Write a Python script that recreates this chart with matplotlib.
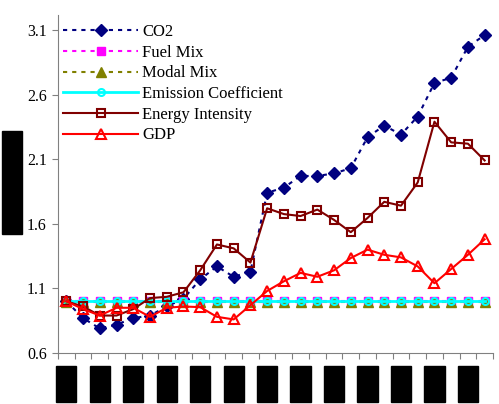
import numpy as np
import matplotlib.pyplot as plt
from matplotlib.transforms import blended_transform_factory

plt.rcParams['font.family'] = ['Liberation Serif', 'DejaVu Serif']

# decomposition indices, one value per year
years = [str(y) for y in range(1980, 2006)]
co2 = [1.00, 0.87, 0.79, 0.82, 0.87, 0.89, 0.96, 1.02, 1.17, 1.27, 1.19, 1.23,
       1.84, 1.88, 1.97, 1.97, 1.99, 2.03, 2.27, 2.36, 2.29, 2.43, 2.69, 2.73,
       2.97, 3.06]
fuel_mix = [1.00] * 26
modal_mix = [0.995] * 26
emission_coef = [1.00] * 26
energy_int = [1.00, 0.96, 0.89, 0.89, 0.94, 1.025, 1.035, 1.07, 1.24, 1.44, 1.41, 1.30,
              1.72, 1.675, 1.66, 1.71, 1.63, 1.535, 1.645, 1.77, 1.74, 1.92, 2.39, 2.23,
              2.22, 2.09]
gdp = [1.00, 0.94, 0.89, 0.95, 0.95, 0.88, 0.95, 0.96, 0.955, 0.88, 0.86, 0.97,
       1.08, 1.155, 1.22, 1.19, 1.24, 1.335, 1.40, 1.36, 1.34, 1.27, 1.14, 1.25,
       1.36, 1.48]
y_ticks = [0.6, 1.1, 1.6, 2.1, 2.6, 3.1]
y_label = 'Index (1980 = 1)'

x = np.arange(len(years))

fig = plt.figure(figsize=(4.99, 4.04), dpi=100)
ax = fig.add_axes([0.1162, 0.1262, 0.8718, 0.8368])

ax.plot(x, co2, color='#000080', lw=1.5, ls=(0, (2, 2.4)), marker='D', ms=6.5,
        label='CO2')
ax.plot(x, fuel_mix, color='#FF00FF', lw=1.5, ls=(0, (2, 2.4)), marker='s', ms=6,
        label='Fuel Mix')
ax.plot(x, modal_mix, color='#808000', lw=1.5, ls=(0, (2, 2.4)), marker='^', ms=7,
        label='Modal Mix')
ax.plot(x, emission_coef, color='#00FFFF', lw=2, marker='o', ms=5, mfc='none', mew=1.5,
        label='Emission Coefficient')
ax.plot(x, energy_int, color='#800000', lw=1.5, marker='s', ms=6, mfc='none', mew=1.5,
        label='Energy Intensity')
ax.plot(x, gdp, color='#FF0000', lw=1.5, marker='^', ms=7.5, mfc='none', mew=1.5,
        label='GDP')

ax.set_xlim(-0.5, len(years) - 0.5)
ax.set_ylim(0.6, 3.216)
ax.set_yticks(y_ticks)
ax.set_yticklabels(['0.6', '1.1', '1.6', '2.1', '2.6', '3.1'])
ax.set_xticks(np.arange(-0.5, len(years), 1.0))
ax.set_xticklabels([])
ax.tick_params(axis='both', direction='out', length=4, color='#808080', labelsize=11.5)
ax.tick_params(axis='y', pad=4)
for side in ['top', 'right']:
    ax.spines[side].set_visible(False)
for side in ['left', 'bottom']:
    ax.spines[side].set_color('#808080')

# year labels under every other category
trans = blended_transform_factory(ax.transData, ax.transAxes)
for i in range(0, len(years), 2):
    ax.text(x[i], -0.092, years[i], transform=trans, rotation=90, ha='center', va='center',
            fontsize=10.5, color='black',
            bbox=dict(boxstyle='square,pad=0.25', fc='black', ec='black'))

fig.text(12 / 499, 1 - 182.5 / 404, y_label, rotation=90, ha='center', va='center',
         fontsize=10.2, color='black',
         bbox=dict(boxstyle='square,pad=0.25', fc='black', ec='black'))

ax.legend(loc='upper left', bbox_to_anchor=(63 / 499, 1 - 24 / 404),
          bbox_transform=fig.transFigure, frameon=False, fontsize=12,
          handlelength=4.5, handletextpad=0.25, labelspacing=0.28, borderpad=0,
          borderaxespad=0)

fig.savefig('out.png', dpi=100)
